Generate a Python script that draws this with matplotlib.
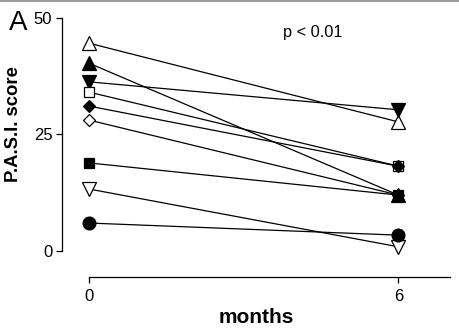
import matplotlib.pyplot as plt
from matplotlib.lines import Line2D

plt.rcParams['font.family'] = ['Liberation Sans', 'DejaVu Sans']

# P.A.S.I. score per patient, before (0 months) and after (6 months)
months = [0, 6]
score_0 = [44.6, 40.3, 36.3, 34.1, 31.1, 28.1, 18.9, 13.3, 6.0]
score_6 = [27.7, 12.0, 30.3, 18.2, 18.2, 12.0, 12.0, 0.9, 3.4]
markers = ['^', '^', 'v', 's', 'D', 'D', 's', 'v', 'o']
filled = [False, True, True, False, True, False, True, False, True]
sizes = [9.5, 9.5, 9.5, 7.2, 6.0, 6.0, 7.2, 9.5, 9.2]

fig = plt.figure(figsize=(4.59, 3.31), dpi=100)
ax = fig.add_axes([62 / 459, 54 / 331, 388 / 459, 259 / 331])

for s0, s6, m, f, ms in zip(score_0, score_6, markers, filled, sizes):
    ax.plot(months, [s0, s6], color='black', lw=0.9, marker=m, ms=ms,
            markerfacecolor='black' if f else 'white',
            markeredgecolor='black', markeredgewidth=0.9, clip_on=False)

ax.set_xlim(-0.524, 7.0)
ax.set_ylim(-5.58, 50)
ax.set_xticks([0, 6])
ax.set_yticks([0, 25, 50])

for side in ['top', 'right']:
    ax.spines[side].set_visible(False)
ax.spines['left'].set_bounds(0, 50)
ax.spines['bottom'].set_bounds(0, 7)
ax.spines['left'].set_linewidth(0.9)
ax.spines['bottom'].set_linewidth(0.9)
ax.tick_params(axis='y', length=4, width=0.9, pad=3, labelsize=12)
ax.tick_params(axis='x', length=4.5, width=0.9, pad=4, labelsize=12)

ax.set_xlabel('months', fontsize=15, fontweight='bold', labelpad=3)
fig.text(14 / 459, 1 - 124 / 331, 'P.A.S.I. score', rotation=90,
         fontsize=13.3, fontweight='bold', ha='center', va='center')
fig.text(18 / 459, 1 - 23 / 331, 'A', fontsize=20, ha='center', va='center')
ax.text(313 / 459, 1 - 32 / 331, 'p < 0.01', transform=fig.transFigure,
        fontsize=11.8, ha='center', va='center')

# thin grey border line at the top of the panel
fig.add_artist(Line2D([0, 1], [0.997, 0.997], transform=fig.transFigure,
                      color='#888888', lw=1.2))

fig.savefig('out.png', dpi=100)
